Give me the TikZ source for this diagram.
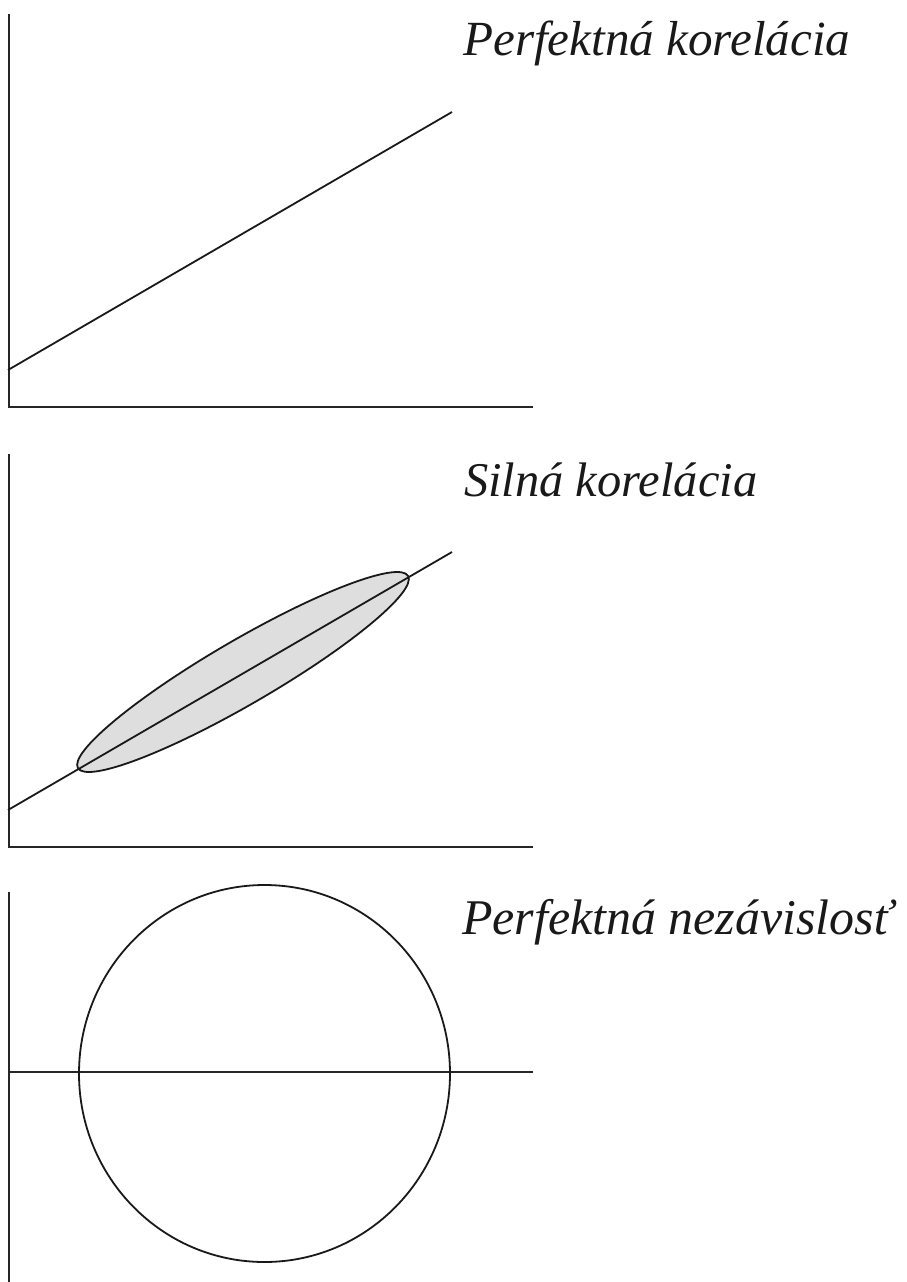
\documentclass[tikz,border=0pt]{standalone}
\usepackage{graphicx}
\usepackage{fontspec}
\setmainfont{Liberation Serif}
\begin{document}
\begin{tikzpicture}[x=1pt,y=-1pt,
  axis/.style={line width=1.8pt,black!85},
  trend/.style={line width=1.8pt,black!90},
  blob/.style={line width=1.8pt,black!90},
  title/.style={anchor=base west,inner sep=0pt,text=black!90,font=\itshape\fontsize{44}{48}\selectfont}]
\useasboundingbox (0,0) rectangle (906,1282);
% panel 1
\coordinate (t1) at (9,14);
\coordinate (o1) at (9,407);
\coordinate (r1) at (533,407);
\coordinate (la1) at (8,370);
\coordinate (lb1) at (452,112);
\draw[axis] (t1) -- (o1) -- (r1);
\draw[trend] (la1) -- (lb1);
\node[title] (h1) at (463,56) {\resizebox{387pt}{!}{Perfektná korelácia}};
% panel 2
\coordinate (t2) at (9,454);
\coordinate (o2) at (9,847);
\coordinate (r2) at (533,847);
\coordinate (la2) at (8,810);
\coordinate (lb2) at (452,552);
\coordinate (c2) at (243,672);
\draw[blob,fill=black!13,rotate around={30.2:(c2)}] (c2) ellipse [x radius=191pt, y radius=32pt];
\draw[axis] (t2) -- (o2) -- (r2);
\draw[trend] (la2) -- (lb2);
\node[title] (h2) at (464,496) {\resizebox{293pt}{!}{Silná korelácia}};
% panel 3
\coordinate (t3) at (9,892);
\coordinate (o3) at (9,1282);
\coordinate (la3) at (8,1072);
\coordinate (lb3) at (533,1072);
\coordinate (c3) at (264.5,1073.5);
\draw[axis] (t3) -- (o3);
\draw[axis] (la3) -- (lb3);
\draw[blob] (c3) ellipse [x radius=185.5pt, y radius=188.5pt];
\node[title] (h3) at (462,934) {\resizebox{430pt}{!}{Perfektná nezávislosť}};
\end{tikzpicture}
\end{document}
